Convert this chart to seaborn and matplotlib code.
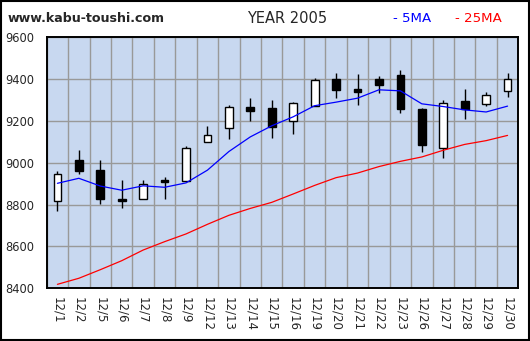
import matplotlib
matplotlib.use("Agg")
import matplotlib.pyplot as plt
import numpy as np
import pandas as pd
import seaborn as sns
from matplotlib.patches import Rectangle

# December 2005 daily prices
dates = ["12/1", "12/2", "12/5", "12/6", "12/7", "12/8", "12/9", "12/12",
         "12/13", "12/14", "12/15", "12/16", "12/19", "12/20", "12/21",
         "12/22", "12/23", "12/26", "12/27", "12/28", "12/29", "12/30"]
open_ = [8819, 9014, 8966, 8827, 8829, 8918, 8912, 9098, 9165, 9265, 9261,
         9198, 9270, 9399, 9351, 9399, 9420, 9257, 9073, 9296, 9280, 9342]
high = [8959, 9061, 9014, 8918, 8918, 8934, 9080, 9176, 9276, 9308, 9300,
        9292, 9404, 9428, 9425, 9415, 9444, 9261, 9300, 9353, 9339, 9430]
low = [8771, 8947, 8803, 8786, 8829, 8829, 8912, 9098, 9116, 9202, 9120,
       9139, 9270, 9312, 9278, 9332, 9240, 9052, 9025, 9211, 9273, 9316]
close = [8945, 8963, 8827, 8818, 8897, 8910, 9069, 9131, 9265, 9246, 9173,
         9286, 9396, 9350, 9340, 9374, 9259, 9087, 9286, 9259, 9323, 9399]
ma5 = [8902, 8926, 8889, 8869, 8890, 8883, 8904, 8965, 9054, 9124, 9177,
       9220, 9273, 9290, 9309, 9349, 9344, 9282, 9269, 9253, 9243, 9271]
ma25 = [8419, 8448, 8489, 8532, 8583, 8623, 8660, 8706, 8749, 8782, 8811,
        8851, 8892, 8929, 8951, 8982, 9007, 9028, 9060, 9088, 9106, 9131]
y_ticks = [8400, 8600, 8800, 9000, 9200, 9400, 9600]

sns.set_theme(style="white", rc={
    "axes.facecolor": "#C8D8F0",
    "axes.edgecolor": "black",
    "axes.linewidth": 1.4,
    "grid.color": "#999999",
    "grid.linewidth": 1.0,
})
plt.rcParams["font.family"] = ["DejaVu Sans"]

fig = plt.figure(figsize=(5.30, 3.41), dpi=100)
ax = fig.add_axes([0.0881, 0.1545, 0.8898, 0.7361])

x = np.arange(len(dates))
df = pd.DataFrame({"x": x, "ma5": ma5, "ma25": ma25})

# candles: wicks, then bodies
ax.vlines(x, low, high, color="black", linewidth=1.0, zorder=3)
body_w = 0.36
for xi, o, c in zip(x, open_, close):
    bottom = min(o, c)
    h = max(abs(c - o), 3)
    face = "white" if c >= o else "black"
    ax.add_patch(Rectangle((xi - body_w / 2, bottom), body_w, h,
                           facecolor=face, edgecolor="black",
                           linewidth=1.0, zorder=4))

sns.lineplot(data=df, x="x", y="ma5", ax=ax, color="#0000FF",
             linewidth=0.9, zorder=5)
sns.lineplot(data=df, x="x", y="ma25", ax=ax, color="#FF0000",
             linewidth=0.9, zorder=5)

ax.set_xlim(-0.5, len(dates) - 0.5)
ax.set_ylim(8400, 9600)
ax.set_yticks(y_ticks)
ax.set_yticklabels([str(v) for v in y_ticks], fontsize=8.3)
ax.set_xticks(x)
ax.set_xticklabels(dates, rotation=270, fontsize=8.5, va="top", ha="center")
ax.set_xticks(np.arange(-0.5, len(dates) - 0.4, 1.0), minor=True)
ax.tick_params(axis="x", which="major", length=0, pad=6)
ax.tick_params(axis="x", which="minor", length=3.5, width=1.0,
               direction="in", color="black")
ax.tick_params(axis="y", length=0, pad=9)
ax.grid(True, which="minor", axis="x")
ax.grid(True, which="major", axis="y")
ax.set_axisbelow(True)
ax.set_xlabel("")
ax.set_ylabel("")

fig.text(0.015, 0.945, "www.kabu-toushi.com", fontsize=9.1,
         fontweight="bold", va="center", ha="left")
fig.text(0.466, 0.945, "YEAR 2005", fontsize=10.5, va="center", ha="left")
fig.text(0.742, 0.945, "- 5MA", fontsize=9.6, color="#0000FF",
         va="center", ha="left")
fig.text(0.858, 0.945, "- 25MA", fontsize=9.6, color="#FF0000",
         va="center", ha="left")

# outer frame
fig.patches.append(Rectangle((0.001, 0.002), 0.997, 0.995,
                             transform=fig.transFigure, fill=False,
                             edgecolor="black", linewidth=1.5))

fig.savefig("out.png", dpi=100, facecolor="white")
